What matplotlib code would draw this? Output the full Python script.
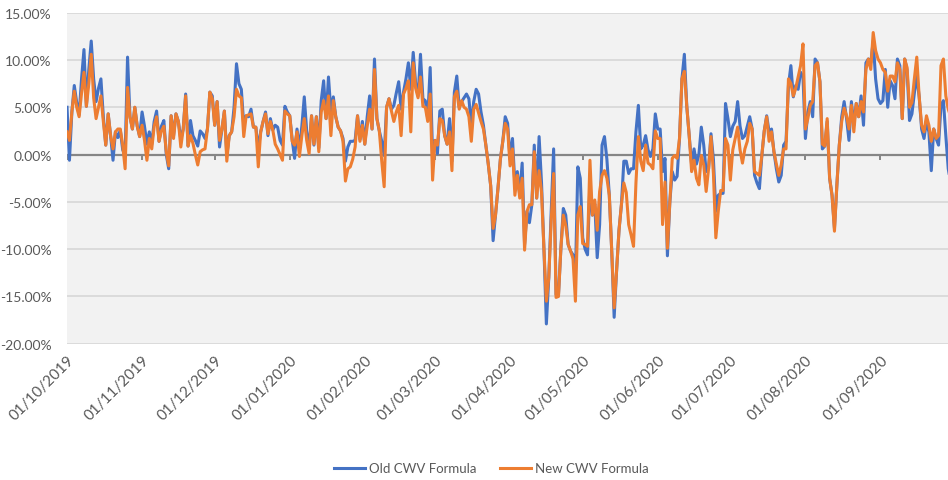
import matplotlib
matplotlib.use("Agg")
import matplotlib.pyplot as plt
from matplotlib.ticker import FuncFormatter
import pandas as pd

# daily CWV change, %, starting 01/10/2019
old_cwv = [
    5.0, -0.6, 4.5, 7.3, 5.5, 4.2, 8.0, 11.1, 5.1, 9.0, 12.0, 8.0, 5.6, 7.0, 8.0, 4.0, 1.0, 4.3, 2.0, -0.6,
    2.4, 1.8, 2.6, 0.5, -0.1, 10.3, 4.0, 2.7, 5.0, 3.0, 1.9,
    4.5, 3.0, 1.1, 2.4, 1.1, 3.5, 4.6, 1.4, 3.0, 3.6, 0.0, -1.5, 4.1, 2.0, 4.3, 3.5, 1.6, 2.7, 6.4, 0.9,
    3.6, 2.0, 1.5, 0.9, 2.5, 2.2, 1.7, 2.7, 6.6,
    6.2, 3.1, 5.6, 0.8, 2.7, 4.6, -0.1, 2.0, 2.4, 5.0, 9.6, 7.5, 6.9, 3.1, 4.1, 4.0, 4.8, 2.9, 2.9, 0.6,
    2.4, 3.5, 4.5, 2.0, 3.8, 2.6, 3.1, 2.9, 1.5, 1.0, 5.1,
    4.5, 4.1, 1.6, -0.4, 2.7, 0.6, 3.0, 6.1, 2.5, 0.6, 4.1, 1.0, 4.0, 0.7, 5.7, 7.8, 3.8, 8.2, 4.5, 6.1,
    4.0, 2.9, 2.5, 1.7, -0.7, 0.8, 1.4, 1.4, 1.5, 4.1, 1.6,
    3.5, 1.1, 4.0, 6.2, 2.7, 10.1, 3.8, 2.5, 1.4, -0.1, 5.0, 5.9, 4.8, 5.2, 6.5, 7.7, 4.8, 6.6, 8.0, 9.7,
    6.9, 10.8, 7.5, 6.2, 10.6, 5.9, 5.7, 3.8,
    9.2, -0.1, 1.5, 0.1, 4.6, 4.8, 2.0, 1.1, 3.8, -0.7, 6.6, 8.3, 5.0, 5.6, 6.0, 6.4, 5.9, 3.1, 5.6, 6.9,
    6.4, 4.5, 3.1, 1.0, -1.0, -3.3, -9.1, -6.4, -3.6, -0.5, 1.4,
    4.0, 3.3, -0.5, 1.7, -3.2, -1.8, -4.3, -0.9, -9.5, -6.0, -7.2, -5.3, 1.0, -4.6, 1.9, -3.0, -10.0, -17.9, -13.0, -6.0,
    0.6, -14.8, -14.8, -9.9, -5.7, -6.4, -9.5, -10.2, -10.6, -13.0,
    -1.3, -2.5, -8.8, -10.0, -10.6, -2.9, -6.4, -5.2, -10.9, -7.4, 1.0, 1.9, -0.5, -4.3, -10.2, -17.2, -12.3, -8.0, -5.3, -0.7,
    -0.7, -2.0, -1.5, -1.5, 2.4, 5.2, 0.6, 1.0, 2.0, 0.5,
    -0.2, 0.6, 4.3, 2.7, 2.7, -1.8, -0.4, -10.7, -5.0, -1.8, -2.7, -2.3, 1.7, 8.0, 10.6, 5.1, 2.0, -1.1, 0.6, -1.0,
    0.0, 2.9, 1.0, -1.8, -1.5, 2.2, -0.5, -6.0, -4.3, -4.1,
    -4.1, 5.4, 3.8, 1.9, 3.0, 3.5, 5.6, 3.0, 1.7, 2.0, 3.0, 4.0, 2.7, -2.2, -3.0, -3.6, -0.1, 2.5, 4.1, 2.4,
    2.7, 0.3, -1.5, -2.9, -2.2, 1.0, 1.4, 7.3, 9.4, 6.1, 7.3,
    6.9, 8.7, 8.2, 1.7, 4.5, 5.6, 4.0, 10.1, 9.7, 7.7, 0.6, 0.9, 3.5, -2.5, -4.3, -7.8, -3.2, 1.0, 4.0, 5.6,
    3.8, 1.5, 5.6, 3.1, 5.4, 4.0, 6.2, 3.1, 9.7, 10.1, 9.7,
    12.0, 8.0, 5.9, 5.4, 5.7, 9.0, 5.0, 7.8, 7.3, 5.9, 10.1, 9.4, 3.8, 10.1, 8.9, 3.6, 4.3, 6.5, 8.3, 6.1,
    2.7, 1.7, 3.5, 2.4, -1.7, 2.7, 1.7, 1.0, 5.2, 5.7, 2.0, -1.5, -3.0,
]

new_cwv = [
    2.4, 1.5, 4.5, 6.7, 5.0, 4.0, 6.5, 8.7, 5.1, 7.5, 10.6, 6.0, 3.8, 5.0, 6.2, 3.5, 1.0, 4.3, 2.0, 0.6,
    2.4, 2.7, 2.7, 1.0, -1.5, 7.1, 4.0, 2.7, 5.0, 3.0, 1.9,
    3.1, 1.5, -0.6, 1.7, 0.6, 3.0, 4.0, 1.4, 2.5, 3.0, 0.3, -1.2, 4.1, 1.7, 4.3, 3.5, 0.8, 2.7, 6.2, 0.9,
    2.0, 1.2, 0.0, -1.1, 0.3, 0.5, 0.6, 2.7, 6.6,
    5.9, 3.1, 5.6, 1.5, 2.7, 4.6, -0.7, 2.0, 2.4, 4.0, 6.9, 6.2, 6.0, 1.9, 4.1, 4.2, 4.3, 2.9, 2.9, -1.3,
    2.4, 3.5, 4.3, 2.2, 3.5, 2.6, 1.1, 0.6, 0.0, -0.6, 4.6,
    4.3, 4.1, 1.4, 1.0, 2.4, -0.2, 2.0, 3.8, 1.5, 0.1, 4.1, 1.1, 4.0, 0.3, 4.5, 5.7, 3.8, 6.2, 2.0, 5.7,
    4.0, 2.9, 2.5, 1.4, -2.8, -1.5, -1.3, -0.5, 0.8, 4.1, 1.4,
    3.1, 1.1, 3.0, 4.8, 2.7, 9.0, 3.8, 2.5, -0.7, -3.4, 5.0, 5.9, 4.6, 3.5, 4.5, 5.2, 2.0, 6.4, 7.0, 7.8,
    2.4, 9.7, 7.0, 6.0, 8.2, 5.1, 5.0, 3.5,
    6.4, -2.7, 1.5, 1.0, 3.8, 3.6, 2.0, 1.1, 2.4, -1.7, 6.1, 6.7, 4.8, 5.7, 5.0, 4.8, 4.0, 1.4, 4.8, 5.3,
    4.4, 3.5, 2.7, 1.0, -1.0, -3.3, -7.8, -6.4, -3.6, -0.5, 1.4,
    3.3, 2.7, -1.2, 0.6, -4.3, -2.2, -4.6, -2.5, -10.1, -6.0, -5.3, -5.3, 0.3, -4.6, -1.7, -4.0, -10.0, -15.5, -13.0, -7.0,
    -2.0, -15.1, -15.0, -9.9, -6.4, -7.5, -9.5, -10.2, -11.0, -15.5,
    -6.4, -5.5, -9.4, -9.5, -9.7, -0.6, -6.4, -4.8, -8.0, -3.9, -2.2, -1.7, -2.5, -4.3, -10.2, -16.2, -12.3, -8.0, -5.3, -3.0,
    -4.0, -7.4, -8.5, -9.7, -3.0, 1.9, -0.7, -1.7, 1.0, -0.9,
    -1.1, -1.5, 2.5, 1.7, 1.7, -7.4, -2.9, -9.9, -5.0, -0.4, -0.1, -0.4, 1.7, 8.0, 8.8, 5.1, 2.0, -1.8, -0.6, -2.5,
    -3.2, -0.1, -1.1, -3.9, -1.5, 1.9, -2.0, -8.8, -6.0, -3.8,
    -3.8, 1.7, 1.0, -2.7, 0.5, 1.7, 2.9, 0.5, -0.9, 0.6, 1.4, 3.3, 2.7, -1.8, -2.0, -2.2, -0.1, 2.5, 4.0, 1.4,
    2.4, 0.3, -1.0, -2.2, -1.1, 0.6, 0.6, 8.0, 7.5, 6.2, 7.0,
    8.2, 9.4, 11.7, 2.7, 3.8, 5.2, 5.6, 9.4, 9.7, 7.7, 1.1, 0.9, 3.8, -2.5, -4.3, -8.1, -3.2, 1.0, 3.5, 4.9,
    4.1, 2.7, 5.2, 2.4, 5.4, 4.0, 5.6, 4.5, 9.0, 10.1, 9.0,
    12.9, 11.0, 10.1, 9.7, 9.0, 8.7, 6.7, 8.3, 8.3, 7.7, 9.7, 9.0, 3.8, 10.1, 9.2, 5.0, 5.5, 8.0, 10.3, 6.1,
    3.1, 2.4, 4.1, 3.1, 1.4, 2.7, 1.7, 2.0, 9.4, 10.1, 6.2, 4.8, 4.0,
]

y_ticks = [15, 10, 5, 0, -5, -10, -15, -20]
month_ticks = pd.date_range("2019-10-01", "2020-09-01", freq="MS")
tick_labels = [d.strftime("%d/%m/%Y") for d in month_ticks]

dates = pd.date_range("2019-10-01", periods=len(old_cwv), freq="D")

plt.rcParams['font.family'] = ['Lato', 'DejaVu Sans']
grey_txt = '#595959'

fig = plt.figure(figsize=(9.48, 4.81), dpi=100)
ax = fig.add_axes([0.0707, 0.2832, 0.9293, 0.6884])
ax.set_facecolor('#f2f2f2')
for s in ax.spines.values():
    s.set_visible(False)

ax.yaxis.grid(True, color='#d9d9d9', lw=1.3)
ax.set_axisbelow(True)

# axis line at zero with month tick marks
ax.axhline(0, color='#868686', lw=1.6, zorder=1.5)
ax.vlines(month_ticks, -0.55, 0, color='#868686', lw=1.4, zorder=1.5)

ax.plot(dates, old_cwv, color='#4472C4', lw=2.2, label='Old CWV Formula', zorder=2)
ax.plot(dates, new_cwv, color='#ED7D31', lw=2.2, label='New CWV Formula', zorder=3)

ax.set_ylim(-20, 15)
ax.set_xlim(dates[0], dates[0] + pd.Timedelta(days=363.9))
ax.set_yticks(y_ticks)
ax.yaxis.set_major_formatter(FuncFormatter(lambda v, p: f"{v:.2f}%"))
ax.set_xticks(month_ticks)
ax.set_xticklabels(tick_labels, rotation=45, ha='right', rotation_mode='anchor')
ax.tick_params(length=0, colors=grey_txt)
ax.tick_params(axis='y', pad=11, labelsize=10)
ax.tick_params(axis='x', pad=6, labelsize=11)

leg = fig.legend(loc='center', bbox_to_anchor=(0.518, 0.024), ncol=2, frameon=False,
                 fontsize=9.5, handlelength=2.4, columnspacing=1.8, handletextpad=0.25)
for t in leg.get_texts():
    t.set_color(grey_txt)

fig.savefig("out.png", dpi=100)
